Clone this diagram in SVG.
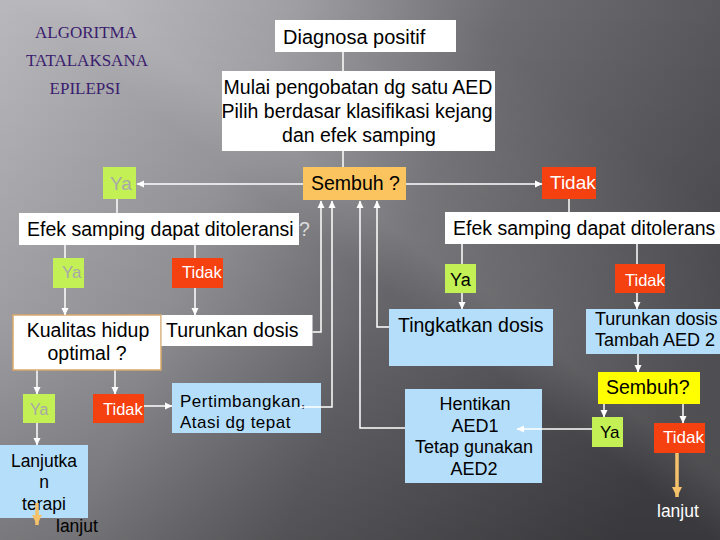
<svg xmlns="http://www.w3.org/2000/svg" width="720" height="540" viewBox="0 0 720 540">
<defs>
<linearGradient id="bg" x1="0" y1="0" x2="720" y2="300" gradientUnits="userSpaceOnUse">
<stop offset="0" stop-color="#b9b8bd"/>
<stop offset="0.35" stop-color="#9a999e"/>
<stop offset="0.6" stop-color="#6e6d72"/>
<stop offset="1" stop-color="#4c4c51"/>
</linearGradient>
<linearGradient id="shade" x1="0" y1="0" x2="0" y2="540" gradientUnits="userSpaceOnUse">
<stop offset="0" stop-color="#000" stop-opacity="0"/>
<stop offset="0.6" stop-color="#000" stop-opacity="0.08"/>
<stop offset="1" stop-color="#000" stop-opacity="0.25"/>
</linearGradient>
<linearGradient id="streak" x1="520" y1="60" x2="200" y2="480" gradientUnits="userSpaceOnUse">
<stop offset="0" stop-color="#fff" stop-opacity="0"/>
<stop offset="0.4" stop-color="#fff" stop-opacity="0.12"/>
<stop offset="0.5" stop-color="#fff" stop-opacity="0"/>
<stop offset="1" stop-color="#fff" stop-opacity="0"/>
</linearGradient>
<marker id="ah" markerWidth="8" markerHeight="8" refX="7" refY="4" orient="auto" markerUnits="userSpaceOnUse">
<path d="M0,0.5 L7.5,4 L0,7.5 Z" fill="#ffffff"/>
</marker>
<marker id="ahO" markerWidth="12" markerHeight="12" refX="10" refY="6" orient="auto" markerUnits="userSpaceOnUse">
<path d="M0,1 L10,6 L0,11 Z" fill="#f5c26b"/>
</marker>
<style>
.t{font-family:"Liberation Sans",Arial,sans-serif;fill:#000}
.w{fill:#fff}
.g{fill:#a8a8a8}
.title{font-family:"Liberation Serif","DejaVu Serif",serif;font-size:17px;fill:#3a1d6e;text-anchor:middle}
.box{fill:#fff}
.blue{fill:#b4defa}
.lime{fill:#c2f055}
.red{fill:#f5400f}
.org{fill:#fcc45e}
.yel{fill:#ffff00}
.c{fill:none;stroke:#fff;stroke-width:1.5}
.o{fill:none;stroke:#f5c26b;stroke-width:3.5}
.mid{text-anchor:middle}
</style>
</defs>
<rect width="720" height="540" fill="url(#bg)"/>
<rect width="720" height="540" fill="url(#streak)"/>
<rect width="720" height="540" fill="url(#shade)"/>

<g id="title">
<text class="title" x="86" y="38">ALGORITMA</text>
<text class="title" x="87" y="66">TATALAKSANA</text>
<text class="title" x="85" y="94">EPILEPSI</text>
</g>

<g id="diagnosa">
<rect class="box" x="275" y="20" width="181" height="32"/>
<text class="t" x="283" y="44" font-size="20">Diagnosa positif</text>
</g>

<g id="mulai">
<rect class="box" x="222" y="71" width="273" height="80"/>
<text class="t mid" x="358" y="94" font-size="19.5">Mulai pengobatan dg satu AED</text>
<text class="t mid" x="357" y="118" font-size="19.5">Pilih berdasar klasifikasi kejang</text>
<text class="t mid" x="359" y="142" font-size="19.5">dan efek samping</text>
</g>

<g id="sembuh1">
<rect class="org" x="303" y="167" width="103" height="33"/>
<text class="t" x="311" y="190" font-size="19.5">Sembuh ?</text>
</g>

<g id="ya1">
<rect class="lime" x="103" y="167" width="33" height="32"/>
<text class="t g" x="110" y="190" font-size="19">Ya</text>
</g>

<g id="tidak1">
<rect class="red" x="542" y="167" width="54" height="32"/>
<text class="t w" x="550" y="189" font-size="19">Tidak</text>
</g>

<g id="efek-left">
<rect class="box" x="19" y="213" width="280" height="32"/>
<text class="t" x="27" y="236" font-size="19.5">Efek samping dapat ditoleransi<tspan fill="#dcdcdc"> ?</tspan></text>
</g>

<g id="efek-right">
<rect class="box" x="445" y="212" width="275" height="32"/>
<text class="t" x="453" y="235" font-size="19.5">Efek samping dapat ditolerans</text>
</g>

<g id="ya2">
<rect class="lime" x="53" y="258" width="31" height="30"/>
<text class="t g" x="62" y="278" font-size="17">Ya</text>
</g>

<g id="tidak2">
<rect class="red" x="172" y="258" width="51" height="30"/>
<text class="t w" x="182" y="278" font-size="16.5">Tidak</text>
</g>

<g id="kualitas">
<rect class="box" x="13" y="315" width="148" height="55" stroke="#d9a868" stroke-width="1.5"/>
<text class="t mid" x="88" y="337" font-size="19.5">Kualitas hidup</text>
<text class="t mid" x="87" y="360" font-size="19.5">optimal ?</text>
</g>

<g id="turunkan1">
<rect class="box" x="161.5" y="315" width="151" height="31"/>
<text class="t" x="166" y="337" font-size="19.5">Turunkan dosis</text>
</g>

<g id="ya3">
<rect class="lime" x="445" y="264" width="31" height="29"/>
<text class="t" x="450" y="286" font-size="18">Ya</text>
</g>

<g id="tidak3">
<rect class="red" x="615" y="264" width="50" height="29"/>
<text class="t w" x="625" y="286" font-size="16.5">Tidak</text>
</g>

<g id="tingkatkan">
<rect class="blue" x="389" y="309" width="164" height="57"/>
<text class="t" x="398" y="332" font-size="19.5">Tingkatkan dosis</text>
</g>

<g id="turunkan2">
<rect class="blue" x="586" y="309" width="134" height="45"/>
<text class="t" x="595" y="325" font-size="18">Turunkan dosis</text>
<text class="t" x="595" y="346" font-size="18">Tambah AED 2</text>
</g>

<g id="sembuh2">
<rect class="yel" x="598" y="372" width="102" height="32"/>
<text class="t" x="606" y="394" font-size="19.5">Sembuh?</text>
</g>

<g id="ya4">
<rect class="lime" x="592" y="417" width="31" height="30"/>
<text class="t" x="600" y="438" font-size="17">Ya</text>
</g>

<g id="tidak4">
<rect class="red" x="654" y="423" width="51" height="30"/>
<text class="t w" x="663" y="443" font-size="17">Tidak</text>
</g>

<g id="hentikan">
<rect class="blue" x="405" y="389" width="137" height="94"/>
<text class="t mid" x="475" y="410" font-size="18">Hentikan</text>
<text class="t mid" x="475" y="432" font-size="18">AED1</text>
<text class="t mid" x="474" y="453" font-size="18">Tetap gunakan</text>
<text class="t mid" x="474" y="475" font-size="18">AED2</text>
</g>

<g id="lanjut-right">
<text class="t w" x="657" y="517" font-size="17.5">lanjut</text>
</g>

<g id="ya5">
<rect class="lime" x="23" y="394" width="32" height="29"/>
<text class="t g" x="30" y="415" font-size="16">Ya</text>
</g>

<g id="tidak5">
<rect class="red" x="93" y="394" width="51" height="29"/>
<text class="t w" x="103" y="415" font-size="16.5">Tidak</text>
</g>

<g id="pertimbangkan">
<rect class="blue" x="172" y="383" width="149" height="50"/>
<text class="t" x="180" y="407" font-size="17" letter-spacing="0.5">Pertimbangkan,</text>
<text class="t" x="180" y="428" font-size="17" letter-spacing="0.5">Atasi dg tepat</text>
</g>

<g id="lanjutkan">
<rect class="blue" x="0" y="445" width="88" height="73"/>
<text class="t mid" x="44" y="467" font-size="17.5">Lanjutka</text>
<text class="t mid" x="44" y="488" font-size="17.5">n</text>
<text class="t mid" x="44" y="510" font-size="17.5">terapi</text>
<text class="t" x="56" y="532" font-size="17.5">lanjut</text>
</g>

<g id="connectors">
<path class="c" d="M343,52 V71"/>
<path class="c" d="M343,151 V167"/>
<path class="c" d="M303,184 H137" marker-end="url(#ah)"/>
<path class="c" d="M406,184 H542" marker-end="url(#ah)"/>
<path class="c" d="M117,199 V213"/>
<path class="c" d="M569,199 V212"/>
<path class="c" d="M65,245 V258"/>
<path class="c" d="M195,245 V258"/>
<path class="c" d="M65,288 V315" marker-end="url(#ah)"/>
<path class="c" d="M195,288 V315" marker-end="url(#ah)"/>
<path class="c" d="M462,244 V264"/>
<path class="c" d="M637,244 V264"/>
<path class="c" d="M462,293 V309" marker-end="url(#ah)"/>
<path class="c" d="M637,293 V309" marker-end="url(#ah)"/>
<path class="c" d="M312.5,332 H321 V201" marker-end="url(#ah)"/>
<path class="c" d="M300,407 H332 V201" marker-end="url(#ah)"/>
<path class="c" d="M405,428 H360 V201" marker-end="url(#ah)"/>
<path class="c" d="M389,327 H377 V201" marker-end="url(#ah)"/>
<path class="c" d="M37,370.5 V394" marker-end="url(#ah)"/>
<path class="c" d="M115,370.5 V394" marker-end="url(#ah)"/>
<path class="c" d="M144,406 H172" marker-end="url(#ah)"/>
<path class="c" d="M37,423 V445" marker-end="url(#ah)"/>
<path class="c" d="M638,354 V372" marker-end="url(#ah)"/>
<path class="c" d="M604,404 V417" marker-end="url(#ah)"/>
<path class="c" d="M683,404 V423" marker-end="url(#ah)"/>
<path class="c" d="M592,429 H517" marker-end="url(#ah)"/>
<path class="o" d="M677,453 V497" marker-end="url(#ahO)"/>
<path class="o" d="M37,503 V525" marker-end="url(#ahO)"/>
</g>
</svg>
